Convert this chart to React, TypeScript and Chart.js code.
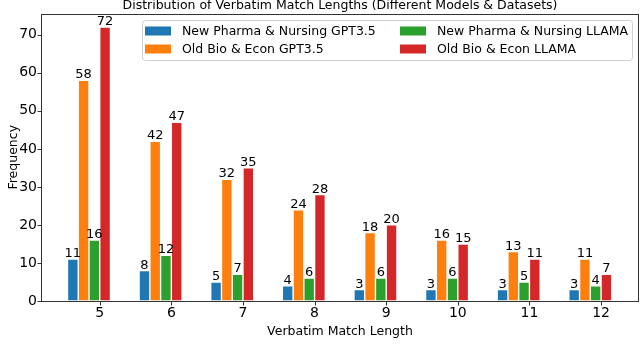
import React, { useEffect, useRef } from "react";
import { Chart, registerables } from "chart.js";

Chart.register(...registerables);

const matchLengths = [5, 6, 7, 8, 9, 10, 11, 12];
const newPharmaGPT = [11, 8, 5, 4, 3, 3, 3, 3];
const oldBioGPT = [58, 42, 32, 24, 18, 16, 13, 11];
const newPharmaLLAMA = [16, 12, 7, 6, 6, 6, 5, 4];
const oldBioLLAMA = [72, 47, 35, 28, 20, 15, 11, 7];
const seriesNames = [
  "New Pharma & Nursing GPT3.5",
  "Old Bio & Econ GPT3.5",
  "New Pharma & Nursing LLAMA",
  "Old Bio & Econ LLAMA",
];
const seriesValues = [newPharmaGPT, oldBioGPT, newPharmaLLAMA, oldBioLLAMA];
const seriesColors = ["#1f77b4", "#ff7f0e", "#2ca02c", "#d62728"];
const yTicks = [0, 10, 20, 30, 40, 50, 60, 70];

const titleText = "Distribution of Verbatim Match Lengths (Different Models & Datasets)";
const xTitle = "Verbatim Match Length";
const yTitle = "Frequency";

const BAR_W = 0.15;
const OFFSETS = [-2.5, -1.5, -0.5, 0.5];
const FONT = "DejaVu Sans";

const decorPlugin = {
  id: "decor",
  afterDatasetsDraw(chart: any) {
    const ctx = chart.ctx;
    ctx.save();
    ctx.fillStyle = "#000";
    ctx.font = `13px "${FONT}"`;
    ctx.textAlign = "center";
    ctx.textBaseline = "alphabetic";
    chart.data.datasets.forEach((ds: any, i: number) => {
      const meta = chart.getDatasetMeta(i);
      meta.data.forEach((el: any, j: number) => {
        ctx.fillText(String(ds.data[j].y), el.x, el.y - 2);
      });
    });
    ctx.restore();
  },
  afterDraw(chart: any) {
    const ctx = chart.ctx;
    const ca = chart.chartArea;
    const xs = chart.scales.x;
    const ys = chart.scales.y;
    ctx.save();
    // spines
    ctx.strokeStyle = "#333";
    ctx.lineWidth = 1;
    const L = Math.round(ca.left) + 0.5;
    const T = Math.round(ca.top) + 0.5;
    const R = Math.round(ca.right) - 0.5;
    const B = Math.round(ca.bottom) + 0.5;
    ctx.strokeRect(L, T, R - L, B - T);
    // tick marks
    ctx.beginPath();
    matchLengths.forEach((v) => {
      const px = Math.round(xs.getPixelForValue(v)) + 0.5;
      ctx.moveTo(px, B);
      ctx.lineTo(px, B + 4);
    });
    yTicks.forEach((v) => {
      const py = Math.round(ys.getPixelForValue(v)) + 0.5;
      ctx.moveTo(L, py);
      ctx.lineTo(L - 4, py);
    });
    ctx.stroke();
    // title
    ctx.fillStyle = "#000";
    ctx.font = `12.5px "${FONT}"`;
    ctx.textAlign = "center";
    ctx.textBaseline = "alphabetic";
    const cx = (ca.left + ca.right) / 2;
    ctx.fillText(titleText, cx, 9);
    // x title
    ctx.fillText(xTitle, cx, 335);
    // y title
    ctx.save();
    ctx.translate(16.5, (ca.top + ca.bottom) / 2);
    ctx.rotate(-Math.PI / 2);
    ctx.fillText(yTitle, 0, 0);
    ctx.restore();
    // legend
    const lx = 142, ly = 20, lw = 490, lh = 40;
    ctx.fillStyle = "rgba(255,255,255,0.8)";
    ctx.strokeStyle = "#d0d0d0";
    ctx.lineWidth = 1;
    ctx.beginPath();
    (ctx as any).roundRect(lx + 0.5, ly + 0.5, lw, lh, 3);
    ctx.fill();
    ctx.stroke();
    const cols = [145, 400];
    const rows = [31, 49];
    ctx.font = `12.5px "${FONT}"`;
    ctx.textAlign = "left";
    ctx.textBaseline = "middle";
    seriesNames.forEach((name, k) => {
      const c = Math.floor(k / 2);
      const r = k % 2;
      const x = cols[c];
      const y = rows[r];
      ctx.fillStyle = seriesColors[k];
      ctx.fillRect(x, y - 4.5, 26, 9);
      ctx.fillStyle = "#000";
      ctx.fillText(name, x + 37, y + 0.5);
    });
    ctx.restore();
  },
};

export default function App() {
  const ref = useRef<HTMLCanvasElement | null>(null);
  useEffect(() => {
    document.body.style.margin = "0";
    const canvas = ref.current!;
    const datasets = seriesValues.map((vals, i) => ({
      label: seriesNames[i],
      data: matchLengths.map((x, j) => ({ x: x + OFFSETS[i] * BAR_W, y: vals[j] })),
      backgroundColor: seriesColors[i],
      borderColor: "#ffffff",
      borderWidth: 1,
      borderSkipped: false,
      barThickness: 10.7,
      grouped: false,
    }));
    const chart = new Chart(canvas, {
      type: "bar",
      data: { datasets },
      options: {
        animation: false,
        responsive: false,
        devicePixelRatio: 1,
        layout: { padding: { top: 13.5, right: 1, left: 0, bottom: 0 } },
        plugins: {
          legend: { display: false },
          tooltip: { enabled: false },
          title: { display: false },
        },
        scales: {
          x: {
            type: "linear",
            min: 4.18,
            max: 12.53,
            offset: false,
            afterBuildTicks: (axis: any) => {
              axis.ticks = matchLengths.map((v) => ({ value: v }));
            },
            afterFit: (s: any) => {
              s.height = 49;
            },
            ticks: {
              color: "#000",
              font: { family: FONT, size: 14 },
              padding: 4,
              maxRotation: 0,
              autoSkip: false,
            },
            grid: { display: false, drawTicks: false, tickLength: 0 },
            border: { display: false },
          },
          y: {
            type: "linear",
            min: 0,
            max: 75.6,
            afterBuildTicks: (axis: any) => {
              axis.ticks = yTicks.map((v) => ({ value: v }));
            },
            afterFit: (s: any) => {
              s.width = 41;
            },
            ticks: {
              color: "#000",
              font: { family: FONT, size: 14 },
              padding: 4,
            },
            grid: { display: false, drawTicks: false, tickLength: 0 },
            border: { display: false },
          },
        },
      } as any,
      plugins: [decorPlugin],
    });
    return () => chart.destroy();
  }, []);
  return (
    <div style={{ width: 640, height: 350, background: "#fff" }}>
      <canvas ref={ref} width={640} height={350} style={{ display: "block" }} />
    </div>
  );
}
